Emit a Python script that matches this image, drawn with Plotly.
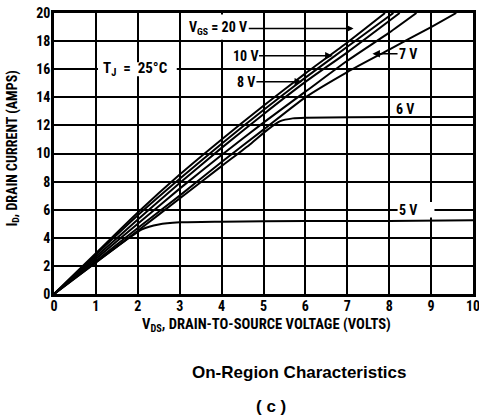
import plotly.graph_objects as go

# On-region characteristics (T_J = 25 C)
vds_20v = [0, 1, 2, 3, 4, 5, 6, 7, 7.9]
id_20v = [0, 2.9, 5.8, 8.5, 11.0, 13.4, 15.7, 17.9, 20]

vds_10v = [0, 1, 2, 3, 4, 5, 6, 7, 8.1]
id_10v = [0, 2.8, 5.6, 8.2, 10.7, 13.1, 15.4, 17.6, 20]

vds_9v = [0, 1, 2, 3, 4, 5, 6, 7, 8.25]
id_9v = [0, 2.65, 5.3, 7.9, 10.4, 12.8, 15.1, 17.2, 20]

vds_8v = [0, 1, 2, 3, 4, 5, 6, 7, 8, 8.65]
id_8v = [0, 2.5, 5.0, 7.5, 9.9, 12.2, 14.4, 16.6, 18.6, 20]

vds_7v = [0, 1, 2, 3, 4, 5, 6, 7, 8, 9, 9.6]
id_7v = [0, 2.35, 4.7, 7.0, 9.4, 11.7, 14.0, 15.8, 17.4, 19.0, 20]

vds_6v = [0, 1, 2, 3, 4, 4.7, 5.1, 5.4, 5.7, 6, 8, 10]
id_6v = [0, 2.25, 4.5, 6.8, 9.1, 10.7, 11.7, 12.3, 12.5, 12.55, 12.6, 12.6]

vds_5v = [0, 1, 1.8, 2.1, 2.5, 3, 4, 6, 8, 10]
id_5v = [0, 2.25, 4.0, 4.6, 4.95, 5.1, 5.15, 5.2, 5.2, 5.25]

x_ticks = [0, 1, 2, 3, 4, 5, 6, 7, 8, 9, 10]
y_ticks = [0, 2, 4, 6, 8, 10, 12, 14, 16, 18, 20]

NARROW = "Liberation Sans Narrow, Roboto Condensed, DejaVu Sans Condensed, Arial Narrow, sans-serif"
BOLD = "Liberation Sans, Arial, sans-serif"

curves = [
    ("20 V", vds_20v, id_20v),
    ("10 V", vds_10v, id_10v),
    ("9 V", vds_9v, id_9v),
    ("8 V", vds_8v, id_8v),
    ("7 V", vds_7v, id_7v),
    ("6 V", vds_6v, id_6v),
    ("5 V", vds_5v, id_5v),
]

fig = go.Figure()
for name, xs, ys in curves:
    fig.add_trace(go.Scatter(
        x=xs, y=ys, mode="lines", name=name,
        line=dict(color="black", width=2, shape="spline", smoothing=0.6),
        showlegend=False, cliponaxis=True,
    ))

# white patches where labels break the grid
fig.add_shape(type="rect", x0=3.06, x1=4.94, y0=18.1, y1=19.9,
              fillcolor="white", line_width=0, layer="between")
fig.add_shape(type="rect", x0=1.05, x1=2.93, y0=15.5, y1=16.5,
              fillcolor="white", line_width=0, layer="between")
fig.add_shape(type="rect", x0=8.2, x1=9.08, y0=5.45, y1=6.55,
              fillcolor="white", line_width=0, layer="between")

lbl = dict(family=NARROW, size=14, color="black", weight="bold")

def arrow_label(text, tx, ty, hx, hy):
    fig.add_annotation(
        x=hx, y=hy, ax=tx, ay=ty, xref="x", yref="y", axref="x", ayref="y",
        text=text, showarrow=True, arrowhead=2, arrowsize=1, arrowwidth=1.5,
        arrowcolor="black", font=lbl, standoff=0,
    )

arrow_label("V<sub>GS</sub> = 20 V", 3.92, 18.9, 7.15, 18.9)
arrow_label("10 V", 4.56, 16.95, 6.65, 16.95)
arrow_label("8 V", 4.58, 15.1, 5.92, 15.1)
arrow_label("7 V", 8.45, 17.1, 7.6, 17.1)

for text, x, y, sz in [("6 V", 8.38, 13.2, 14), ("5 V", 8.45, 6.0, 14),
                       ("T<sub>J</sub> &nbsp;= &nbsp;25°C", 1.95, 16.0, 15)]:
    fig.add_annotation(x=x, y=y, text=text, showarrow=False, font={**lbl, "size": sz},
                       xanchor="center", yanchor="middle")

# axis titles and caption
cap = dict(family=BOLD, size=17, color="black", weight="bold")
for text, x, y, ang, f in [
    ("V<sub>DS</sub>, DRAIN-TO-SOURCE VOLTAGE (VOLTS)", 0.508, -0.110, 0, {**lbl, "size": 14.6}),
    ("I<sub>D</sub>, DRAIN CURRENT (AMPS)", -0.099, 0.516, -90, lbl),
    ("On-Region Characteristics", 0.585, -0.278, 0, cap),
    ("( c )", 0.518, -0.399, 0, cap),
]:
    fig.add_annotation(xref="paper", yref="paper", x=x, y=y, text=text,
                       textangle=ang, showarrow=False, font=f,
                       xanchor="center", yanchor="middle")

axis_common = dict(
    showgrid=True, gridcolor="black", gridwidth=2,
    showline=True, linecolor="black", linewidth=2.5, mirror=True,
    zeroline=False, ticks="", fixedrange=True, automargin=False,
    ticklabeloverflow="allow",
    tickfont=dict(family=NARROW, size=14, color="black", weight="bold"),
)
fig.update_xaxes(range=[0, 10], tickvals=x_ticks, ticklabelstandoff=-3, **axis_common)
fig.update_yaxes(range=[0, 20], tickvals=y_ticks, ticklabelstandoff=-2, **axis_common)

fig.update_layout(
    width=479, height=418,
    margin=dict(l=54, r=6, t=13, b=124),
    paper_bgcolor="white", plot_bgcolor="white",
    showlegend=False,
)

# drop the page's default body margin so the figure sits at the window corner
fig.write_html("out.html", config={"displayModeBar": False},
               post_script="document.body.style.margin = '0';")
